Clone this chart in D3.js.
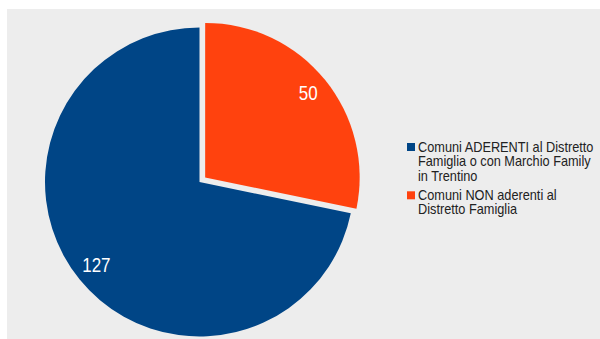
<!DOCTYPE html>
<html>
<head>
<meta charset="utf-8">
<script src="https://cdn.jsdelivr.net/npm/d3@7"></script>
<style>
  body { margin: 0; background: #fff; }
  text { font-family: "Liberation Sans", Arial, sans-serif; }
</style>
</head>
<body>
<div id="chart"></div>
<script>
// dati del grafico
const categories = ["Comuni ADERENTI al Distretto Famiglia o con Marchio Family in Trentino",
                    "Comuni NON aderenti al Distretto Famiglia"];
const legendLines = [["Comuni ADERENTI al Distretto", "Famiglia o con Marchio Family", "in Trentino"],
                     ["Comuni NON aderenti al", "Distretto Famiglia"]];
const values = [127, 50];
const exploded = [false, true];
const colors = ["#004586", "#ff420e"];

const data = categories.map((c, i) => ({ name: c, value: values[i], lines: legendLines[i], explode: exploded[i] }));

const svg = d3.select("#chart").append("svg")
    .attr("width", 600)
    .attr("height", 339);

// sfondo grigio
svg.append("rect")
    .attr("x", 7).attr("y", 9)
    .attr("width", 593).attr("height", 330)
    .attr("fill", "#ededed");

const cx = 199.5, cy = 182, radius = 154.5, offset = 7.3;

const color = d3.scaleOrdinal().domain(categories).range(colors);

// torta in senso antiorario a partire da ore 12
const pie = d3.pie().value(d => d.value).sort(null)
    .startAngle(0).endAngle(-2 * Math.PI);
const arcs = pie(data);

const arc = d3.arc().innerRadius(0).outerRadius(radius);
const labelArc = d3.arc().innerRadius(133).outerRadius(133);

const chart = svg.append("g").attr("transform", `translate(${cx},${cy})`);

const slices = chart.selectAll("g.slice")
    .data(arcs)
    .enter()
    .append("g")
    .attr("class", "slice")
    .attr("transform", d => {
        if (!d.data.explode) return null;
        const mid = (d.startAngle + d.endAngle) / 2;
        return `translate(${Math.sin(mid) * offset},${-Math.cos(mid) * offset})`;
    });

slices.append("path")
    .attr("d", arc)
    .attr("fill", d => color(d.data.name));

// etichette valori
slices.append("text")
    .attr("transform", d => {
        const [x, y] = labelArc.centroid(d);
        return `translate(${x},${y}) scale(0.85,1)`;
    })
    .attr("text-anchor", "middle")
    .attr("dy", "0.32em")
    .style("font-size", "20px")
    .style("fill", "#fff")
    .text(d => d.data.value);

// legenda
const legend = svg.append("g").attr("transform", "translate(407,143)");
let yPos = 0;
data.forEach(d => {
    const item = legend.append("g").attr("transform", `translate(0,${yPos})`);
    item.append("rect")
        .attr("width", 8).attr("height", 8)
        .attr("fill", color(d.name));
    const t = item.append("text")
        .attr("transform", "translate(11,8.5) scale(0.91,1)")
        .style("font-size", "14px")
        .style("fill", "#222");
    d.lines.forEach((l, i) => {
        t.append("tspan").attr("x", 0).attr("y", i * 14.6).text(l);
    });
    yPos += d.lines.length * 14.6 + 4.5;
});
</script>
</body>
</html>
